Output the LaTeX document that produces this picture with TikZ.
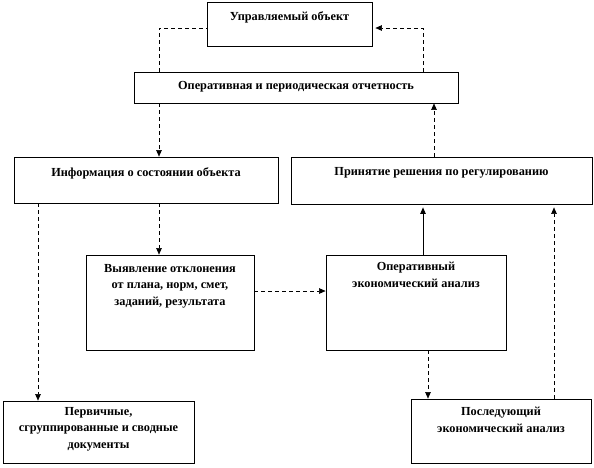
\documentclass[tikz,border=0pt]{standalone}
\usepackage{fontspec}
\setmainfont{Liberation Serif}
\usetikzlibrary{arrows.meta}
\begin{document}
\begin{tikzpicture}[x=1pt,y=-1pt,
  box/.style={draw,line width=0.8pt,inner sep=0pt},
  lbl/.style={font=\bfseries\fontsize{12.3}{16.5}\selectfont,align=center,inner sep=0pt},
  dsh/.style={dash pattern=on 4pt off 3pt,line width=0.6pt},
  sol/.style={line width=0.8pt},
  arr/.style={-{Triangle[length=6.5pt,width=5.5pt]}}]
\useasboundingbox (0,0) rectangle (594,467);
% boxes
\node[box,minimum width=165pt,minimum height=44pt] (b1) at (289.5,24) {};
\node[box,minimum width=324pt,minimum height=31pt] (b2) at (296,87.5) {};
\node[box,minimum width=264pt,minimum height=46pt] (b3) at (146,180) {};
\node[box,minimum width=301pt,minimum height=47pt] (b4) at (441.5,180.5) {};
\node[box,minimum width=168pt,minimum height=95pt] (b5) at (170,302.5) {};
\node[box,minimum width=180pt,minimum height=95pt] (b6) at (416,302.5) {};
\node[box,minimum width=191pt,minimum height=62pt] (b7) at (98.5,432) {};
\node[box,minimum width=180pt,minimum height=64pt] (b8) at (501,431) {};
% texts
\node[lbl] (t1) at (289.5,17) {Управляемый объект};
\node[lbl] (t2) at (296,87) {Оперативная и периодическая отчетность};
\node[lbl] (t3) at (146,173) {Информация о состоянии объекта};
\node[lbl] (t4) at (441.5,173) {Принятие решения по регулированию};
\node[lbl,anchor=north] (t5) at (170,264) {Выявление отклонения\\от плана, норм, смет,\\заданий, результата};
\node[lbl,anchor=north] (t6) at (416,262) {Оперативный\\экономический анализ};
\node[lbl,anchor=north] (t7) at (98.5,407) {Первичные,\\сгруппированные и сводные\\документы};
\node[lbl,anchor=north] (t8) at (501,407) {Последующий\\экономический анализ};
% connectors
\coordinate (c1) at (159,28);
\coordinate (c2) at (423,28);
\draw[dsh] (b2.north -| c1) |- (b1.west |- c1);
\draw[dsh,arr] (b2.north -| c2) |- ([xshift=3pt]b1.east |- c2);
\coordinate (c3) at (159,0);
\draw[dsh,arr] (b2.south -| c3) -- (b3.north -| c3);
\coordinate (c4) at (434,0);
\draw[dsh,arr] (b4.north -| c4) -- (b2.south -| c4);
\coordinate (c5) at (38,0);
\draw[dsh,arr] (b3.south -| c5) -- (b7.north -| c5);
\draw[dsh,arr] (b3.south -| c3) -- (b5.north -| c3);
\coordinate (c6) at (0,291);
\draw[dsh,arr] (b5.east |- c6) -- (b6.west |- c6);
\coordinate (c7) at (423,0);
\draw[sol,arr,shorten >=3pt] (b6.north -| c7) -- (b4.south -| c7);
\coordinate (c8) at (428,0);
\draw[dsh,arr] (b6.south -| c8) -- (b8.north -| c8);
\coordinate (c9) at (554,0);
\draw[dsh,arr,shorten >=3pt] (b8.north -| c9) -- (b4.south -| c9);
\end{tikzpicture}
\end{document}
